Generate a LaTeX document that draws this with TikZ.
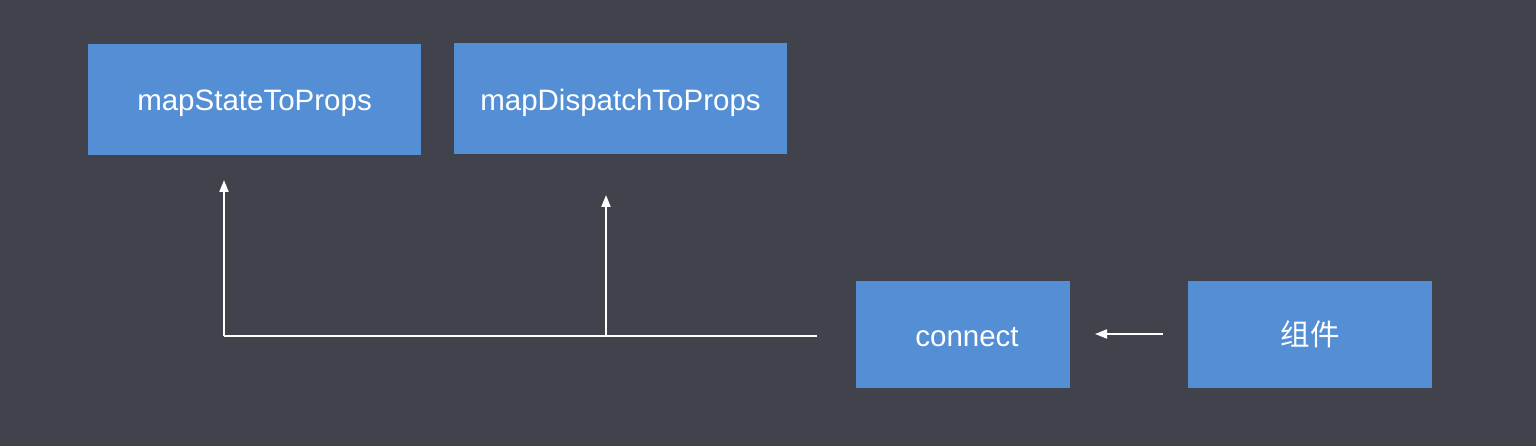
\documentclass[tikz,border=0pt]{standalone}
\usepackage{fontspec}
\setmainfont{Liberation Sans}
\newfontfamily\cjk{Noto Sans CJK SC}
\usetikzlibrary{arrows.meta}
\definecolor{bg}{HTML}{40424C}
\definecolor{boxblue}{HTML}{548FD6}
\newcommand{\lowered}[2]{\raisebox{-#1}[\height][\depth]{#2}}
\begin{document}
\begin{tikzpicture}[x=1pt,y=-1pt,
  blk/.style={fill=boxblue,draw=none,text=white,font=\fontsize{29.5}{32}\selectfont,inner sep=0pt},
  link/.style={draw=white,line width=2pt},
  arr/.style={link,-{Triangle[width=9pt,length=12pt]}}]
\fill[bg] (0,0) rectangle (1536,446);
\useasboundingbox (0,0) rectangle (1536,446);
\node[blk,minimum width=333pt,minimum height=111pt] (msp) at (254.5,99.5) {\lowered{4pt}{mapStateToProps}};
\node[blk,minimum width=333pt,minimum height=111pt] (mdp) at (620.5,98.5) {\lowered{4pt}{mapDispatchToProps}};
\node[blk,minimum width=214pt,minimum height=107pt] (con) at (963,334.5) {\lowered{3pt}{\hspace{8pt}connect}};
\node[blk,minimum width=244pt,minimum height=107pt] (cmp) at (1310,334.5) {\cjk 组件};
\coordinate (corner) at (224,336);
\coordinate (tip1) at (224,180);
\coordinate (join) at (606,336);
\coordinate (tip2) at (606,195);
\coordinate (hend) at (817,336);
\coordinate (astart) at (1163,334);
\coordinate (aend) at (1095,334);
\draw[link] (hend) -- (corner);
\draw[arr] (corner) -- (tip1);
\draw[arr] (join) -- (tip2);
\draw[arr] (astart) -- (aend);
\end{tikzpicture}
\end{document}
